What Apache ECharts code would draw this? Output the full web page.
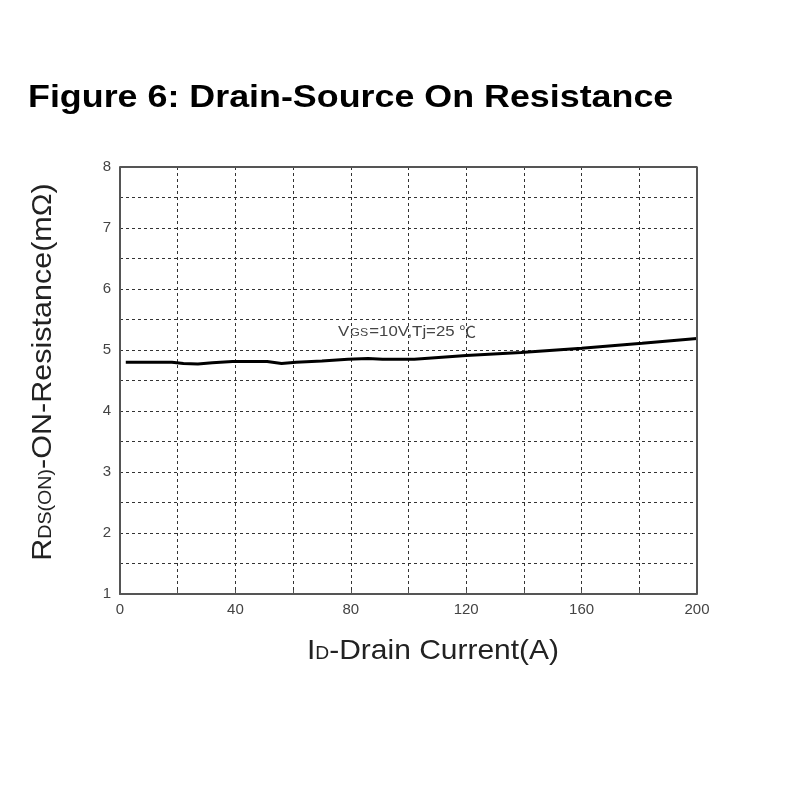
<!DOCTYPE html>
<html>
<head>
<meta charset="utf-8">
<script src="https://cdn.jsdelivr.net/npm/echarts@6/dist/echarts.min.js"></script>
<style>
  html, body { margin: 0; padding: 0; background: #fff; }
  #chart { width: 800px; height: 800px; }
</style>
</head>
<body>
<div id="chart"></div>
<script>
// drain current (A) and on-resistance (mOhm)
var current = [2, 18, 22, 27, 32, 39, 51, 56, 61, 70, 79, 86, 91, 102, 120, 139, 160, 181, 200];
var resistance = [4.80, 4.80, 4.78, 4.77, 4.79, 4.81, 4.81, 4.78, 4.80, 4.82, 4.85, 4.86, 4.85, 4.85, 4.91, 4.96, 5.03, 5.11, 5.19];
var xTicks = [0, 40, 80, 120, 160, 200];
var yTicks = [1, 2, 3, 4, 5, 6, 7, 8];
var noteAt = [99.5, 5.3];

var points = [];
for (var i = 0; i < current.length; i++) {
    points.push([current[i], resistance[i]]);
}

var font = "'Liberation Sans', Arial, sans-serif";
var gridLine = {show: true, lineStyle: {color: '#333', width: 1, type: [3, 3]}};
var nameRich = {
    a: {fontFamily: font, fontSize: 28, fill: '#222'},
    b: {fontFamily: font, fontSize: 18, fill: '#222', padding: [7, 0, 0, 0]}
};

var option = {
    animation: false,
    backgroundColor: '#fff',
    grid: {left: 120, right: 103, top: 167, bottom: 206},
    xAxis: {
        type: 'value',
        min: 0,
        max: 200,
        interval: 20,
        axisLine: {show: true, lineStyle: {color: '#555', width: 2}},
        axisTick: {show: true, inside: true, length: 4, lineStyle: {color: '#555'}},
        axisLabel: {
            fontFamily: font, fontSize: 15, color: '#444', margin: 8,
            formatter: function (v) { return xTicks.indexOf(v) >= 0 ? v : ''; }
        },
        splitLine: gridLine
    },
    yAxis: {
        type: 'value',
        min: 1,
        max: 8,
        interval: 0.5,
        axisLine: {show: true, lineStyle: {color: '#555', width: 2}},
        axisTick: {show: false},
        axisLabel: {
            fontFamily: font, fontSize: 15, color: '#444', margin: 9,
            formatter: function (v) { return yTicks.indexOf(v) >= 0 ? v : ''; }
        },
        splitLine: gridLine
    },
    graphic: [{
        id: 'title',
        type: 'text',
        x: 28,
        y: 98,
        scaleX: 1.12,
        style: {
            text: 'Figure 6: Drain-Source On Resistance',
            font: "bold 32px 'Liberation Sans', Arial, sans-serif",
            fill: '#000',
            align: 'left',
            verticalAlign: 'middle'
        }
    }, {
        id: 'xname',
        type: 'text',
        x: 433,
        y: 651,
        scaleX: 1.07,
        style: {
            text: '{a|I}{b|D}{a|-Drain Current(A)}',
            rich: nameRich,
            align: 'center',
            verticalAlign: 'middle'
        }
    }, {
        id: 'yname',
        type: 'text',
        x: 43,
        y: 372,
        rotation: Math.PI / 2,
        scaleX: 1.09,
        style: {
            text: '{a|R}{b|DS(ON)}{a|-ON-Resistance(mΩ)}',
            rich: nameRich,
            align: 'center',
            verticalAlign: 'middle'
        }
    }],
    series: [{
        type: 'line',
        data: points,
        showSymbol: false,
        lineStyle: {color: '#000', width: 3}
    }, {
        // frame on the top and right side
        type: 'line',
        data: [[0, 8], [200, 8], [200, 1]],
        showSymbol: false,
        silent: true,
        lineStyle: {color: '#555', width: 2}
    }]
};

var chart = echarts.init(document.getElementById('chart'));
chart.setOption(option);

// curve condition note, placed through the chart's own scales
var notePos = chart.convertToPixel({gridIndex: 0}, noteAt);
chart.setOption({
    graphic: [{
        id: 'note',
        type: 'text',
        x: notePos[0],
        y: notePos[1],
        scaleX: 1.12,
        style: {
            text: '{a|V}{b|GS}{a|=10V,Tj=25 }{c|℃}',
            rich: {
                a: {fontFamily: font, fontSize: 15, fill: '#444'},
                b: {fontFamily: font, fontSize: 11, fill: '#444', padding: [3, 1, 0, 1]},
                c: {fontFamily: "'Noto Sans CJK SC', sans-serif", fontSize: 15, fill: '#444'}
            },
            align: 'center',
            verticalAlign: 'middle'
        }
    }]
});
</script>
</body>
</html>
